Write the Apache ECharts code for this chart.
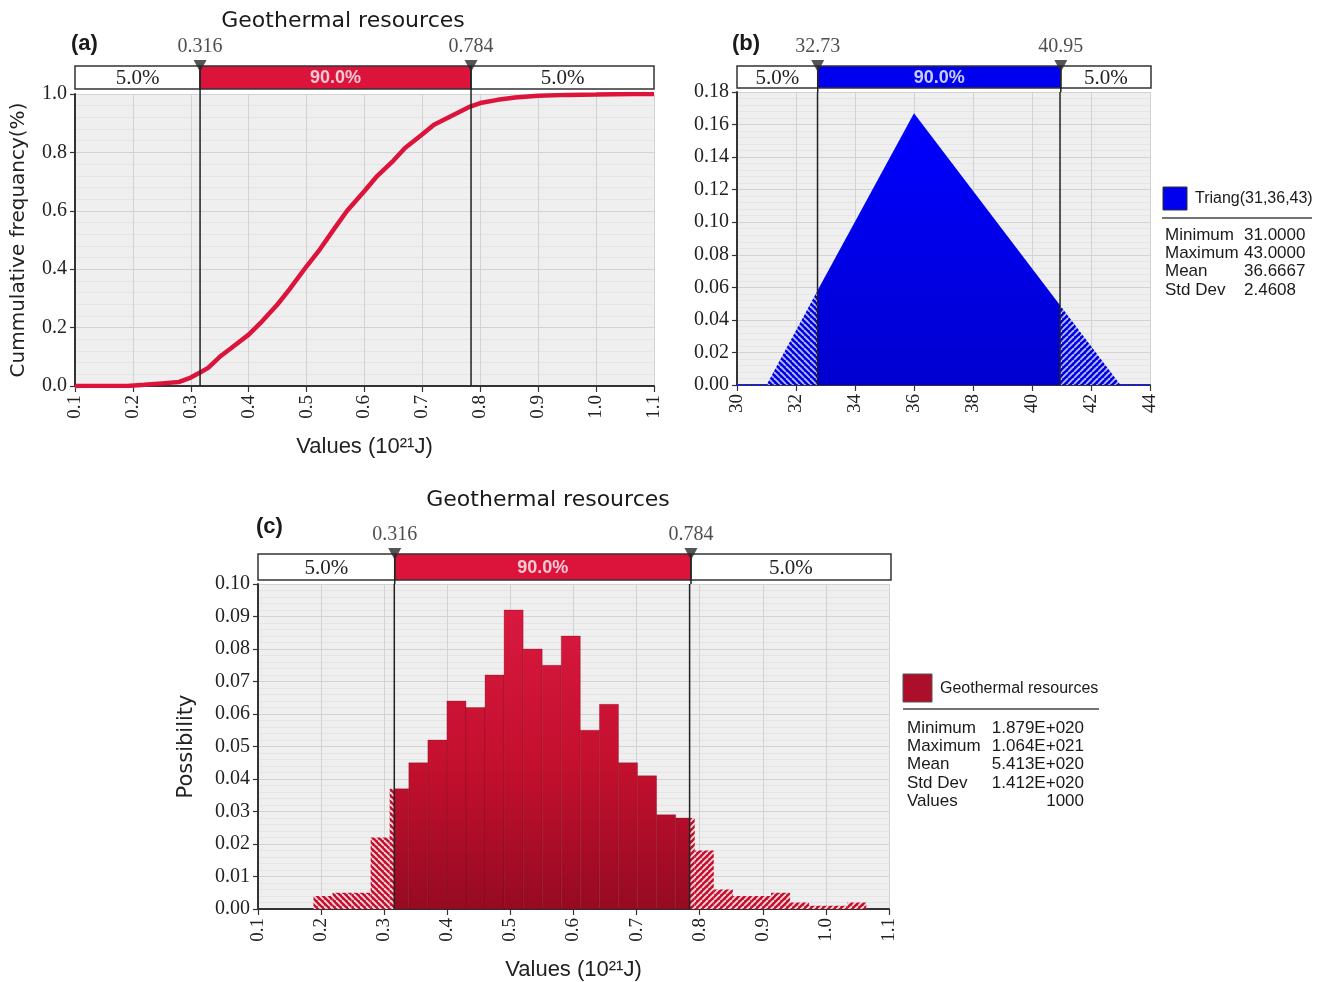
<!DOCTYPE html>
<html><head><meta charset="utf-8">
<script src="https://cdn.jsdelivr.net/npm/echarts@6/dist/echarts.min.js"></script>
<style>html,body{margin:0;padding:0;background:#fff}#c{width:1321px;height:982px}</style>
</head><body><div id="c"></div>
<script>
// ---------- DATA ----------
// (a) cumulative frequency curve
const cdfX = [0.10, 0.19, 0.22, 0.25, 0.28, 0.30, 0.316, 0.33, 0.35, 0.37, 0.40, 0.42, 0.45, 0.47, 0.50, 0.52, 0.55, 0.57, 0.60, 0.62, 0.65, 0.67, 0.70, 0.72, 0.75, 0.78, 0.80, 0.83, 0.86, 0.90, 0.95, 1.00, 1.064, 1.10];
const cdfY = [0.000, 0.000, 0.004, 0.009, 0.014, 0.029, 0.046, 0.062, 0.100, 0.130, 0.176, 0.215, 0.280, 0.330, 0.410, 0.460, 0.545, 0.600, 0.668, 0.715, 0.772, 0.815, 0.862, 0.895, 0.925, 0.955, 0.969, 0.980, 0.988, 0.994, 0.997, 0.998, 1.000, 1.000];
const cutA = [0.316, 0.784];
const cutLabelsA = ['0.316', '0.784'];
const segLabels = ['5.0%', '90.0%', '5.0%'];
const aTicksX = ['0.1','0.2','0.3','0.4','0.5','0.6','0.7','0.8','0.9','1.0','1.1'];
const aTicksY = ['0.0','0.2','0.4','0.6','0.8','1.0'];

// (b) triangular distribution Triang(31,36,43)
const triLeftX = [31, 32.73];       const triLeftY = [0, 0.058];
const triMidX = [32.73, 36, 40.95]; const triMidY = [0.058, 0.167, 0.049];
const triRightX = [40.95, 43];      const triRightY = [0.049, 0];
const baseLeftX = [30, 31];  const baseRightX = [43, 44]; const baseY = [0, 0];
const cutB = [32.73, 40.95];
const cutLabelsB = ['32.73', '40.95'];
const bTicksX = ['30','32','34','36','38','40','42','44'];
const bTicksY = ['0.00','0.02','0.04','0.06','0.08','0.10','0.12','0.14','0.16','0.18'];
const bLegendName = 'Triang(31,36,43)';
const bStatNames = ['Minimum','Maximum','Mean','Std Dev'];
const bStatVals = ['31.0000','43.0000','36.6667','2.4608'];

// (c) histogram
const histEdges = [0.1879,0.2181,0.2483,0.2785,0.3087,0.3390,0.3692,0.3994,0.4296,0.4598,0.4900,0.5202,0.5504,0.5806,0.6108,0.6411,0.6713,0.7015,0.7317,0.7619,0.7921,0.8223,0.8525,0.8827,0.9129,0.9432,0.9734,1.0036,1.0338,1.0640];
const histProb = [0.004,0.005,0.005,0.022,0.037,0.045,0.052,0.064,0.062,0.072,0.092,0.080,0.075,0.084,0.055,0.063,0.045,0.041,0.029,0.028,0.018,0.006,0.004,0.004,0.005,0.002,0.001,0.001,0.002];
const cutC = [0.316, 0.784];
const cutLabelsC = ['0.316', '0.784'];
const cTicksX = ['0.1','0.2','0.3','0.4','0.5','0.6','0.7','0.8','0.9','1.0','1.1'];
const cTicksY = ['0.00','0.01','0.02','0.03','0.04','0.05','0.06','0.07','0.08','0.09','0.10'];
const cLegendName = 'Geothermal resources';
const cStatNames = ['Minimum','Maximum','Mean','Std Dev','Values'];
const cStatVals = ['1.879E+020','1.064E+021','5.413E+020','1.412E+020','1000'];

const titleText = 'Geothermal resources';
const xName = 'Values (10²¹J)';
const aYName = 'Cummulative frequancy(%)';
const cYName = 'Possibility';

// ---------- STYLE HELPERS ----------
const SERIF = '"Liberation Serif", "DejaVu Serif", serif';
const RED = '#dc143c', BLUE = '#0000f0';
const LEG_FONT = '17px "Liberation Sans", Arial, sans-serif';

function hatch(bg, fg, dir) {
  const s = 6, cv = document.createElement('canvas');
  cv.width = s; cv.height = s;
  const g = cv.getContext('2d');
  g.fillStyle = bg; g.fillRect(0, 0, s, s);
  g.strokeStyle = fg; g.lineWidth = 1.9;
  for (const o of [-s, 0, s]) {
    g.beginPath();
    if (dir > 0) { g.moveTo(o, 0); g.lineTo(o + s, s); }
    else { g.moveTo(o + s, 0); g.lineTo(o, s); }
    g.stroke();
  }
  return { image: cv, repeat: 'repeat' };
}
const redHatchL = hatch('#c0102d', '#f7d3da', 1);
const redHatchR = hatch('#c0102d', '#f7d3da', -1);
const blueHatchL = hatch('#0000dc', '#b4b8ff', 1);
const blueHatchR = hatch('#0000dc', '#b4b8ff', -1);

function mainX(grid, min, max, interval, labels, name, nameGap) {
  return {
    type: 'value', gridIndex: grid, min, max, interval,
    axisLine: { show: true, onZero: false, lineStyle: { color: '#333', width: 2 } },
    axisTick: { show: true, length: 6, lineStyle: { color: '#333', width: 1.2 } },
    axisLabel: { rotate: 90, margin: 9, color: '#222', fontFamily: SERIF, fontSize: 19,
      formatter: (v, i) => labels[i] },
    splitLine: { show: true, lineStyle: { color: '#d3d3d3', width: 1 } },
    name: name || '', nameLocation: 'middle', nameGap: nameGap || 0,
    nameTextStyle: { fontFamily: '"Liberation Sans Narrow", "Liberation Sans", sans-serif', fontSize: 22, color: '#222' }
  };
}
function mainY(grid, min, max, interval, labels, name, nameGap, nameSize) {
  return {
    type: 'value', gridIndex: grid, min, max, interval,
    axisLine: { show: true, onZero: false, lineStyle: { color: '#333', width: 2 } },
    axisTick: { show: true, length: 5, lineStyle: { color: '#333', width: 1.2 } },
    axisLabel: { margin: 8, color: '#222', fontFamily: SERIF, fontSize: 20,
      formatter: (v, i) => labels[i] },
    splitLine: { show: true, lineStyle: { color: '#d3d3d3', width: 1 } },
    minorTick: { show: false, splitNumber: 5 },
    minorSplitLine: { show: true, lineStyle: { color: '#e5e5e5', width: 1 } },
    name: name || '', nameLocation: 'middle', nameGap: nameGap || 0,
    nameTextStyle: { fontFamily: '"DejaVu Sans", sans-serif', fontSize: nameSize || 20, color: '#222' }
  };
}
function hiddenX(grid, min, max) { return { type: 'value', gridIndex: grid, min, max, show: false }; }
function hiddenY(grid) { return { type: 'value', gridIndex: grid, min: 0, max: 1, show: false }; }

// top percentile bar (segments + dividers + triangle markers)
function topBar(ax, min, max, cuts, cutLabels, midColor, midText, barH) {
  const segs = [[min, cuts[0], 0], [cuts[0], cuts[1], 1], [cuts[1], max, 2]];
  return [{
    type: 'custom', xAxisIndex: ax, yAxisIndex: ax, silent: true, z: 5,
    data: segs,
    renderItem: (params, api) => {
      const x0 = api.value(0), x1 = api.value(1), i = api.value(2);
      const p0 = api.coord([x0, 1]), p1 = api.coord([x1, 1]);
      const mid = i === 1;
      return { type: 'group', children: [
        { type: 'rect', shape: { x: p0[0], y: p0[1], width: p1[0] - p0[0], height: barH },
          style: { fill: mid ? midColor : '#ffffff', stroke: '#333', lineWidth: 1.5 } },
        { type: 'text', style: { text: segLabels[i], x: (p0[0] + p1[0]) / 2, y: p0[1] + barH / 2 + 1,
          align: 'center', verticalAlign: 'middle', fill: mid ? midText : '#222',
          font: mid ? 'bold 18px "Liberation Sans", Arial, sans-serif' : '21px "Liberation Serif", serif' } }
      ] };
    }
  }, {
    type: 'custom', xAxisIndex: ax, yAxisIndex: ax, silent: true, z: 6,
    data: cuts.map(c => [c]),
    renderItem: (params, api) => {
      const a = api.coord([api.value(0), 1]), b = api.coord([api.value(0), 0]);
      return { type: 'line', shape: { x1: a[0], y1: a[1], x2: b[0], y2: b[1] },
        style: { stroke: '#222', lineWidth: 1.5 } };
    }
  }, {
    type: 'scatter', xAxisIndex: ax, yAxisIndex: ax, silent: true, z: 7, clip: false,
    symbol: 'triangle', symbolRotate: 180, symbolSize: [13, 12],
    itemStyle: { color: '#2a2a2a' },
    data: cuts.map((c, i) => ({ value: [c, 1], name: cutLabels[i] })),
    label: { show: true, position: 'top', distance: 3, formatter: p => p.name,
      fontFamily: SERIF, fontSize: 20, color: '#222' }
  }];
}
function cutLines(ax, cuts, yMax) {
  return {
    type: 'custom', xAxisIndex: ax, yAxisIndex: ax, silent: true, z: 6,
    data: cuts.map(c => [c]),
    renderItem: (params, api) => {
      const a = api.coord([api.value(0), yMax]), b = api.coord([api.value(0), 0]);
      return { type: 'line', shape: { x1: a[0], y1: a[1], x2: b[0], y2: b[1] },
        style: { stroke: '#222', lineWidth: 1.5 } };
    }
  };
}

// ---------- CHART ----------
const chart = echarts.init(document.getElementById('c'), null, { renderer: 'canvas' });
const gridBg = { show: true, backgroundColor: '#efefef', borderWidth: 0 };

const series = [];
// (a)
series.push({
  type: 'line', xAxisIndex: 0, yAxisIndex: 0, symbol: 'none', z: 3,
  lineStyle: { color: RED, width: 4.5 },
  data: cdfX.map((x, i) => [x, cdfY[i]])
});
series.push(cutLines(0, cutA, 1));
series.push(...topBar(1, 0.1, 1.1, cutA, cutLabelsA, RED, '#f7c9d3', 23));

// (b)
const lineArea = (xs, ys, fill) => ({
  type: 'line', xAxisIndex: 2, yAxisIndex: 2, symbol: 'none', z: 3,
  lineStyle: { opacity: 0, width: 0 }, areaStyle: { color: fill, opacity: 1 },
  data: xs.map((x, i) => [x, ys[i]])
});
series.push(lineArea(triLeftX, triLeftY, blueHatchL));
series.push(lineArea(triMidX, triMidY, new echarts.graphic.LinearGradient(0, 0, 0, 1, [
  { offset: 0, color: '#0000ff' }, { offset: 1, color: '#0000d0' }])));
series.push(lineArea(triRightX, triRightY, blueHatchR));
[baseLeftX, baseRightX].forEach(xs => series.push({
  type: 'line', xAxisIndex: 2, yAxisIndex: 2, symbol: 'none', z: 4,
  lineStyle: { color: '#1a1aff', width: 2, type: [3, 2] },
  data: xs.map((x, i) => [x, baseY[i]])
}));
series.push(cutLines(2, cutB, 0.18));
series.push(...topBar(3, 30, 44, cutB, cutLabelsB, BLUE, '#c9ccff', 22));

// (c)
series.push({
  type: 'custom', xAxisIndex: 4, yAxisIndex: 4, z: 3, silent: true,
  data: histProb.map((p, i) => [histEdges[i], histEdges[i + 1], p]),
  renderItem: (params, api) => {
    const x0 = api.value(0), x1 = api.value(1), v = api.value(2);
    const lo = cutC[0], hi = cutC[1];
    const yTop = api.coord([0.1, 0.1])[1], yBot = api.coord([0.1, 0])[1];
    const grad = new echarts.graphic.LinearGradient(0, yTop, 0, yBot, [
      { offset: 0, color: '#dc1a42' }, { offset: 0.55, color: '#c4102f' }, { offset: 1, color: '#960a22' }], true);
    const parts = [[x0, Math.min(x1, lo), redHatchL], [Math.max(x0, lo), Math.min(x1, hi), grad], [Math.max(x0, hi), x1, redHatchR]];
    const children = [];
    parts.forEach(pt => {
      if (pt[1] - pt[0] <= 1e-9) return;
      const a = api.coord([pt[0], v]), b = api.coord([pt[1], 0]);
      const solid = pt[2] === grad;
      children.push({ type: 'rect', shape: { x: a[0], y: a[1], width: b[0] - a[0], height: b[1] - a[1] },
        style: { fill: pt[2], stroke: solid ? 'rgba(110,0,20,0.35)' : null, lineWidth: solid ? 0.8 : 0 } });
    });
    return { type: 'group', children };
  }
});
series.push(cutLines(4, cutC, 0.1));
series.push(...topBar(5, 0.1, 1.1, cutC, cutLabelsC, RED, '#f7c9d3', 26));

// ---------- GRAPHICS (titles, panel tags, legends) ----------
const T = (text, x, y, font, opts) => ({ type: 'text', silent: true,
  x, y, style: Object.assign({ text, font, fill: '#1a1a1a', align: 'left', verticalAlign: 'middle' }, opts || {}) });
const graphics = [];
graphics.push(T(titleText, 343, 21, '22px "DejaVu Sans", sans-serif', { align: 'center' }));
graphics.push(T(titleText, 548, 500, '22px "DejaVu Sans", sans-serif', { align: 'center' }));
graphics.push(T('(a)', 71, 44, 'bold 22px "Liberation Sans", Arial, sans-serif'));
graphics.push(T('(b)', 732, 44, 'bold 22px "Liberation Sans", Arial, sans-serif'));
graphics.push(T('(c)', 256, 527, 'bold 22px "Liberation Sans", Arial, sans-serif'));
// legend (b)
graphics.push({ type: 'rect', silent: true, shape: { x: 1163, y: 187, width: 24, height: 23 }, style: { fill: '#0000ee', stroke: '#333', lineWidth: 1 } });
graphics.push(T(bLegendName, 1195, 199, '16px "Liberation Sans", Arial, sans-serif'));
graphics.push({ type: 'line', silent: true, shape: { x1: 1162, y1: 218, x2: 1312, y2: 218 }, style: { stroke: '#444', lineWidth: 1.5 } });
bStatNames.forEach((n, i) => {
  graphics.push(T(n, 1165, 235 + i * 18.4, LEG_FONT));
  graphics.push(T(bStatVals[i], 1244, 235 + i * 18.4, LEG_FONT));
});
// legend (c)
graphics.push({ type: 'rect', silent: true, shape: { x: 903, y: 674, width: 29, height: 28 }, style: { fill: '#ad0f2b', stroke: '#555', lineWidth: 1 } });
graphics.push(T(cLegendName, 940, 689, '16px "Liberation Sans", Arial, sans-serif'));
graphics.push({ type: 'line', silent: true, shape: { x1: 903, y1: 709, x2: 1099, y2: 709 }, style: { stroke: '#444', lineWidth: 1.5 } });
cStatNames.forEach((n, i) => {
  graphics.push(T(n, 907, 728 + i * 18.4, LEG_FONT));
  graphics.push(T(cStatVals[i], 1084, 728 + i * 18.4, LEG_FONT, { align: 'right' }));
});

chart.setOption({
  animation: false,
  backgroundColor: '#ffffff',
  grid: [
    Object.assign({ left: 75, top: 94, width: 579, height: 292 }, gridBg),
    { left: 75, top: 66, width: 579, height: 28, show: false },
    Object.assign({ left: 737, top: 92, width: 413, height: 293 }, gridBg),
    { left: 737, top: 66, width: 414, height: 26, show: false },
    Object.assign({ left: 258, top: 584, width: 631, height: 326 }, gridBg),
    { left: 258, top: 554, width: 633, height: 30, show: false }
  ],
  xAxis: [
    mainX(0, 0.1, 1.1, 0.1, aTicksX, xName, 50),
    hiddenX(1, 0.1, 1.1),
    mainX(2, 30, 44, 2, bTicksX),
    hiddenX(3, 30, 44),
    mainX(4, 0.1, 1.1, 0.1, cTicksX, xName, 50),
    hiddenX(5, 0.1, 1.1)
  ],
  yAxis: [
    mainY(0, 0, 1, 0.2, aTicksY, aYName, 46, 20),
    hiddenY(1),
    mainY(2, 0, 0.18, 0.02, bTicksY),
    hiddenY(3),
    mainY(4, 0, 0.1, 0.01, cTicksY, cYName, 61, 21),
    hiddenY(5)
  ],
  series,
  graphic: graphics
});
</script>
</body></html>
